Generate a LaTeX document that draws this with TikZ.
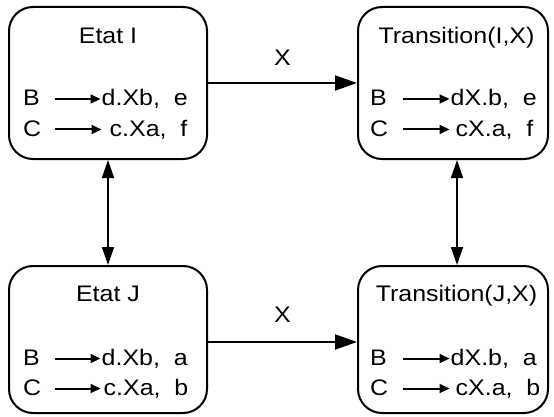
\documentclass[tikz,border=0pt]{standalone}
\usepackage{fontspec}
\setmainfont{Liberation Sans}[FakeStretch=1.11]
\usetikzlibrary{arrows.meta}

\begin{document}
\begin{tikzpicture}[x=1pt,y=-1pt,
  statebox/.style={draw, line width=2pt, rounded corners=24pt, inner sep=0pt},
  lbl/.style={inner sep=0pt, font=\fontsize{22.5}{26}\selectfont},
  mainarrow/.style={line width=2pt, -{Triangle[length=22pt,width=15pt]}},
  linkarrow/.style={line width=1.5pt, {Triangle[length=18pt,width=12pt]}-{Triangle[length=18pt,width=12pt]}},
  rulearrow/.style={line width=2pt, -{Triangle[length=10pt,width=9pt]}}]
\useasboundingbox (0,0) rectangle (554,417);

% the four states
\node[statebox, minimum width=198pt, minimum height=152pt] (I)  at (108,83) {};
\node[statebox, minimum width=190pt, minimum height=152pt] (TI) at (453,83) {};
\node[statebox, minimum width=198pt, minimum height=147pt] (J)  at (108,339.5) {};
\node[statebox, minimum width=190pt, minimum height=147pt] (TJ) at (453,339.5) {};

% titles
\node[lbl, anchor=base] (tI)  at (108,43.5) {Etat I};
\node[lbl, anchor=base] (tTI) at (456.5,43.5) {Transition(I,X)};
\node[lbl, anchor=base] (tJ)  at (108,301) {Etat J};
\node[lbl, anchor=base] (tTJ) at (456.5,301) {Transition(J,X)};

% rule rows: left-hand letter, then the rewritten word
\node[lbl, anchor=base west] (bI)  at (23,106) {B};
\node[lbl, anchor=base west] (cI)  at (23,136.5) {C};
\node[lbl, anchor=base west] (rbI) at (101.5,106) {d.Xb,~~e};
\node[lbl, anchor=base west] (rcI) at (109.5,136.5) {c.Xa,~~f};

\node[lbl, anchor=base west] (bTI)  at (370,106) {B};
\node[lbl, anchor=base west] (cTI)  at (370,136.5) {C};
\node[lbl, anchor=base west] (rbTI) at (450.5,106) {dX.b,~~e};
\node[lbl, anchor=base west] (rcTI) at (455.5,136.5) {cX.a,~~f};

\node[lbl, anchor=base west] (bJ)  at (23,365.5) {B};
\node[lbl, anchor=base west] (cJ)  at (23,395.5) {C};
\node[lbl, anchor=base west] (rbJ) at (101.5,365.5) {d.Xb,~~a};
\node[lbl, anchor=base west] (rcJ) at (103.5,395.5) {c.Xa,~~b};

\node[lbl, anchor=base west] (bTJ)  at (370,365.5) {B};
\node[lbl, anchor=base west] (cTJ)  at (370,395.5) {C};
\node[lbl, anchor=base west] (rbTJ) at (450.5,365.5) {dX.b,~~a};
\node[lbl, anchor=base west] (rcTJ) at (455.5,395.5) {cX.a,~~b};

% rule arrows
\foreach \s/\t/\a/\b in {bI/rbI/32/1, cI/rcI/32/8, bTI/rbTI/33/1, cTI/rcTI/33/6,
                         bJ/rbJ/32/1, cJ/rcJ/32/3, bTJ/rbTJ/33/1, cTJ/rcTJ/33/6}
  \draw[rulearrow] ([xshift=\a pt, yshift=7pt]\s.base west) -- ([xshift=-\b pt, yshift=7pt]\t.base west);

% transitions on X
\draw[mainarrow] (I.east) -- node[lbl, above=16pt] (xI) {X} (TI.west);
\draw[mainarrow] ([yshift=-2.5pt]J.east) -- node[lbl, above=19pt] (xJ) {X} ([yshift=-2.5pt]TJ.west);

% links between the rows of states
\draw[linkarrow] (I.south) -- (J.north);
\draw[linkarrow] ([xshift=4pt]TI.south) -- ([xshift=4pt]TJ.north);
\end{tikzpicture}
\end{document}
